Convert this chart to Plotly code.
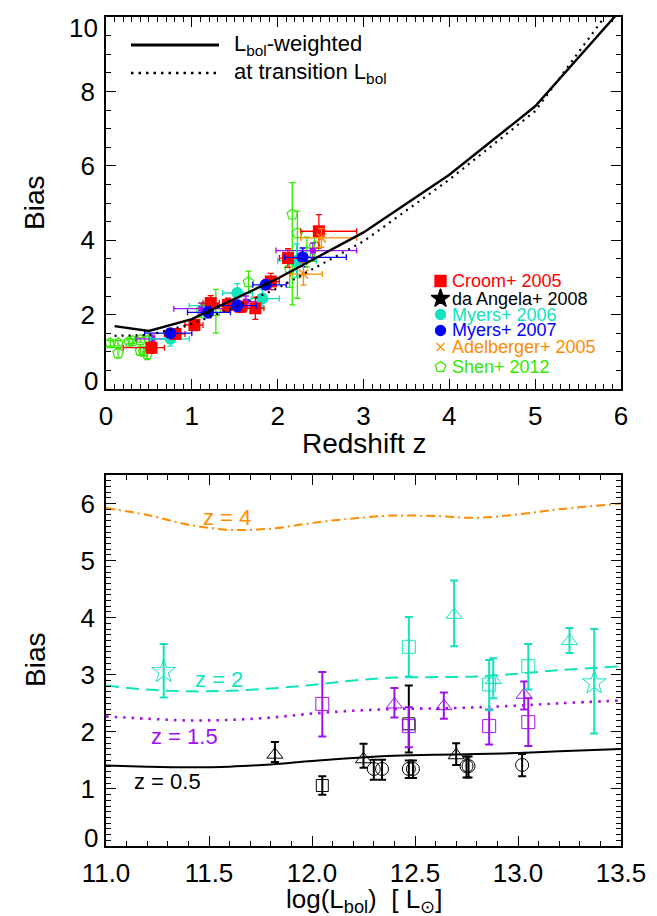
import plotly.graph_objects as go

# ---------------- DATA: top panel (bias vs redshift) ----------------
z_model = [0.1, 0.5, 1.0, 1.5, 2.0, 3.0, 4.0, 5.0, 6.0]
bias_lbol_weighted = [1.69, 1.56, 1.88, 2.42, 2.97, 4.21, 5.76, 7.60, 10.2]
bias_transition = [1.43, 1.45, 1.75, 2.20, 2.71, 3.97, 5.63, 7.47, 10.6]

croom_z = [0.53, 0.81, 1.03, 1.22, 1.42, 1.57, 1.74, 1.92, 2.12, 2.48]
croom_b = [1.11, 1.48, 1.72, 2.31, 2.26, 2.21, 2.17, 2.89, 3.52, 4.24]
croom_zlo = [0.20, 0.68, 0.92, 1.13, 1.32, 1.51, 1.64, 1.84, 2.02, 2.27]
croom_zhi = [0.68, 0.92, 1.13, 1.32, 1.51, 1.64, 1.84, 2.02, 2.25, 2.92]
croom_berr = [0.15, 0.12, 0.15, 0.20, 0.18, 0.15, 0.30, 0.22, 0.25, 0.45]

myers07_z = [0.75, 1.19, 1.53, 1.86, 2.29]
myers07_b = [1.50, 2.06, 2.24, 2.80, 3.54]
myers07_zlo = [0.45, 0.95, 1.30, 1.71, 2.08]
myers07_zhi = [1.00, 1.45, 1.75, 2.10, 2.80]
myers07_berr = [0.12, 0.15, 0.15, 0.12, 0.25]

myers06_z = [0.75, 1.20, 1.53, 1.82, 2.22]
myers06_b = [1.35, 2.24, 2.58, 2.43, 3.45]
myers06_zlo = [0.52, 0.97, 1.36, 1.69, 2.00]
myers06_zhi = [0.97, 1.42, 1.71, 2.02, 2.45]
myers06_berr = [0.20, 0.18, 0.25, 0.25, 0.45]

other_z = [0.54, 1.11, 1.63, 2.41]
other_b = [1.35, 2.16, 2.35, 3.72]
other_zlo = [0.35, 0.79, 1.45, 1.98]
other_zhi = [0.75, 1.36, 1.80, 2.92]
other_berr = [0.10, 0.15, 0.15, 0.20]

adel_z = [2.30, 2.51]
adel_b = [3.09, 4.06]
adel_zlo = [2.15, 2.27]
adel_zhi = [2.52, 2.92]
adel_berr = [0.30, 0.25]

daangela_z = [1.19, 1.88]
daangela_b = [2.06, 2.83]

shen_z = [0.05, 0.14, 0.14, 0.27, 0.31, 0.40, 0.40, 0.44, 0.48, 0.50,
          1.11, 1.28, 1.66, 2.14, 2.17, 2.23, 2.34, 2.43]
shen_b = [1.23, 1.23, 0.96, 1.27, 1.29, 1.32, 1.02, 1.00, 0.94, 1.32,
          2.12, 2.10, 2.87, 3.23, 4.69, 4.19, 3.68, 3.83]
shen_bup = [0.08, 0.07, 0.12, 0.06, 0.06, 0.06, 0.10, 0.10, 0.15, 0.10,
            0.20, 0.58, 0.30, 0.50, 0.86, 0.59, 0.40, 0.40]
shen_bdn = [0.08, 0.07, 0.12, 0.06, 0.06, 0.06, 0.10, 0.10, 0.15, 0.10,
            0.20, 0.60, 0.30, 0.50, 2.43, 1.75, 0.40, 0.40]

legend_labels = ["Croom+ 2005", "da Angela+ 2008", "Myers+ 2006",
                 "Myers+ 2007", "Adelberger+ 2005", "Shen+ 2012"]

top_y_ticks = [0, 2, 4, 6, 8, 10]
bot_y_ticks = [0, 1, 2, 3, 4, 5, 6]

# ---------------- DATA: bottom panel (bias vs log Lbol) ----------------
L_model = [11.0, 11.2, 11.4, 11.6, 11.8, 12.0, 12.2, 12.4, 12.6, 12.8, 13.0, 13.2, 13.5]
bias_z4 = [5.92, 5.80, 5.63, 5.54, 5.56, 5.66, 5.74, 5.79, 5.78, 5.75, 5.81, 5.90, 6.00]
bias_z2 = [2.81, 2.74, 2.71, 2.72, 2.76, 2.82, 2.90, 2.95, 2.96, 2.97, 3.02, 3.08, 3.15]
bias_z15 = [2.27, 2.23, 2.20, 2.21, 2.25, 2.32, 2.37, 2.40, 2.41, 2.43, 2.46, 2.50, 2.55]
bias_z05 = [1.41, 1.39, 1.38, 1.39, 1.43, 1.49, 1.54, 1.58, 1.60, 1.61, 1.63, 1.66, 1.70]

# z ~ 2 (cyan)
c_star_L = [11.28, 13.37]
c_star_b = [3.06, 2.86]
c_star_up = [0.48, 0.94]
c_star_dn = [0.46, 0.89]
c_sq_L = [12.47, 12.86, 13.05]
c_sq_b = [3.49, 2.83, 3.15]
c_sq_up = [0.52, 0.43, 0.39]
c_sq_dn = [0.52, 0.45, 0.41]
c_tri_L = [12.69, 12.88, 13.25]
c_tri_b = [4.05, 2.91, 3.59]
c_tri_up = [0.60, 0.38, 0.23]
c_tri_dn = [0.55, 0.32, 0.21]
# z ~ 1.5 (purple)
p_sq_L = [12.05, 12.47, 12.86, 13.05]
p_sq_b = [2.49, 2.10, 2.10, 2.17]
p_sq_up = [0.56, 0.33, 0.29, 0.42]
p_sq_dn = [0.57, 0.37, 0.32, 0.42]
p_tri_L = [12.40, 12.64, 13.03]
p_tri_b = [2.48, 2.45, 2.65]
p_tri_up = [0.29, 0.24, 0.23]
p_tri_dn = [0.23, 0.22, 0.26]
# z ~ 0.5 (black)
k_sq_L = [12.05, 12.47]
k_sq_b = [1.06, 2.14]
k_sq_up = [0.16, 0.67]
k_sq_dn = [0.16, 0.50]
k_tri_L = [11.82, 12.25, 12.70]
k_tri_b = [1.60, 1.52, 1.59]
k_tri_up = [0.22, 0.27, 0.21]
k_tri_dn = [0.13, 0.15, 0.17]
k_circ_L = [12.30, 12.34, 12.47, 12.49, 12.75, 12.76, 13.02]
k_circ_b = [1.35, 1.35, 1.35, 1.35, 1.40, 1.40, 1.42]
k_circ_up = [0.16, 0.16, 0.15, 0.15, 0.17, 0.17, 0.19]
k_circ_dn = [0.19, 0.19, 0.16, 0.16, 0.20, 0.20, 0.20]

# ---------------- STYLE ----------------
FONT = "Liberation Sans, Arial, Helvetica, sans-serif"
RED = "#ff0000"
BLUE = "#0000ff"
CYAN = "#12e3bd"
PURPLE = "#a010f0"
ORANGE = "#ff8c00"
GREEN = "#33e800"
BLACK = "#000000"
TICKSIZE = 26

W, H = 657, 916
ML, MR, MT, MB = 98, 44, 9, 78
PW, PH = W - ML - MR, H - MT - MB


def px(x, y):
    """page pixel -> paper coordinates"""
    return (x - ML) / PW, (H - MB - y) / PH


fig = go.Figure()


def diff(a, b):
    return [x - y for x, y in zip(a, b)]


def pts_top(z, b, zlo, zhi, berr, color, symbol, size, lw=0, bup=None, bdn=None):
    ey = dict(type="data", symmetric=False,
              array=bup if bup is not None else berr,
              arrayminus=bdn if bdn is not None else berr,
              color=color, thickness=1.3, width=3)
    ex = None
    if zlo is not None:
        ex = dict(type="data", symmetric=False, array=diff(zhi, z), arrayminus=diff(z, zlo),
                  color=color, thickness=1.3, width=3)
    fig.add_trace(go.Scatter(
        x=z, y=b, mode="markers", xaxis="x", yaxis="y",
        marker=dict(symbol=symbol, size=size, color=color, line=dict(color=color, width=lw)),
        error_x=ex, error_y=ey, showlegend=False, hoverinfo="skip"))


# top panel points
pts_top(shen_z, shen_b, None, None, None, GREEN, "pentagon-open", 11, lw=1.2, bup=shen_bup, bdn=shen_bdn)
pts_top(other_z, other_b, other_zlo, other_zhi, other_berr, PURPLE, "square", 6)
pts_top(myers06_z, myers06_b, myers06_zlo, myers06_zhi, myers06_berr, CYAN, "circle", 12)
pts_top(croom_z, croom_b, croom_zlo, croom_zhi, croom_berr, RED, "square", 12)
pts_top(myers07_z, myers07_b, myers07_zlo, myers07_zhi, myers07_berr, BLUE, "circle", 12)
pts_top(adel_z, adel_b, adel_zlo, adel_zhi, adel_berr, ORANGE, "x-thin-open", 9, lw=1.5)
fig.add_trace(go.Scatter(x=daangela_z, y=daangela_b, mode="markers", xaxis="x", yaxis="y",
                         marker=dict(symbol="star", size=5, color=BLACK),
                         showlegend=False, hoverinfo="skip"))

# top panel model lines
fig.add_trace(go.Scatter(x=z_model, y=bias_transition, mode="lines", xaxis="x", yaxis="y",
                         line=dict(color=BLACK, width=2.2, dash="2px,5px"),
                         showlegend=False, hoverinfo="skip"))
fig.add_trace(go.Scatter(x=z_model, y=bias_lbol_weighted, mode="lines", xaxis="x", yaxis="y",
                         line=dict(color=BLACK, width=2.4),
                         showlegend=False, hoverinfo="skip"))

# bottom panel model curves
for yy, col, dash, w in [(bias_z4, ORANGE, "9px,4px,2px,4px", 2),
                         (bias_z2, CYAN, "13px,7px", 2),
                         (bias_z15, PURPLE, "2.5px,6px", 2.6),
                         (bias_z05, BLACK, "solid", 2)]:
    fig.add_trace(go.Scatter(x=L_model, y=yy, mode="lines", xaxis="x2", yaxis="y2",
                             line=dict(color=col, width=w, dash=dash, shape="spline", smoothing=1),
                             showlegend=False, hoverinfo="skip"))


def pts_bot(L, b, up, dn, color, symbol, size):
    fig.add_trace(go.Scatter(
        x=L, y=b, mode="markers", xaxis="x2", yaxis="y2",
        marker=dict(symbol=symbol, size=size, color=color, line=dict(color=color, width=1)),
        error_y=dict(type="data", symmetric=False, array=up, arrayminus=dn,
                     color=color, thickness=2, width=4),
        showlegend=False, hoverinfo="skip"))


pts_bot(k_circ_L, k_circ_b, k_circ_up, k_circ_dn, BLACK, "circle-open", 13)
pts_bot(k_tri_L, k_tri_b, k_tri_up, k_tri_dn, BLACK, "triangle-up-open", 14)
pts_bot(k_sq_L, k_sq_b, k_sq_up, k_sq_dn, BLACK, "square-open", 12)
pts_bot(p_tri_L, p_tri_b, p_tri_up, p_tri_dn, PURPLE, "triangle-up-open", 14)
pts_bot(p_sq_L, p_sq_b, p_sq_up, p_sq_dn, PURPLE, "square-open", 13)
pts_bot(c_tri_L, c_tri_b, c_tri_up, c_tri_dn, CYAN, "triangle-up-open", 14)
pts_bot(c_sq_L, c_sq_b, c_sq_up, c_sq_dn, CYAN, "square-open", 13)
pts_bot(c_star_L, c_star_b, c_star_up, c_star_dn, CYAN, "star-open", 18)

# ---------------- legends (overlay pixel axis x3/y3) ----------------
fig.add_trace(go.Scatter(x=[123, 211], y=[37, 37], mode="lines", xaxis="x3", yaxis="y3",
                         line=dict(color=BLACK, width=3), showlegend=False, hoverinfo="skip"))
fig.add_trace(go.Scatter(x=[123, 211], y=[65, 65], mode="lines", xaxis="x3", yaxis="y3",
                         line=dict(color=BLACK, width=2.5, dash="2.5px,5px"),
                         showlegend=False, hoverinfo="skip"))

annotations = []


def add_px_text(text, x, y, size, color=BLACK, xanchor="left", angle=0):
    ax_, ay_ = px(x, y)
    annotations.append(dict(text=text, x=ax_, y=ay_, xref="paper", yref="paper",
                            xanchor=xanchor, yanchor="middle", showarrow=False, textangle=angle,
                            font=dict(family=FONT, size=size, color=color)))


add_px_text("L<sub>bol</sub>-weighted", 224, 37, 22)
add_px_text("at transition L<sub>bol</sub>", 224, 65, 22)

leg_rows = [273, 290.5, 306.5, 322.5, 339, 359]
leg_colors = [RED, BLACK, CYAN, BLUE, ORANGE, GREEN]
leg_symbols = ["square", "star", "circle", "circle", "x-thin-open", "pentagon-open"]
leg_sizes = [11, 14, 10, 10, 8, 11]
for yy, col, sym, sz, lab in zip(leg_rows, leg_colors, leg_symbols, leg_sizes, legend_labels):
    fig.add_trace(go.Scatter(x=[432.5], y=[yy], mode="markers", xaxis="x3", yaxis="y3",
                             marker=dict(symbol=sym, size=sz, color=col, line=dict(color=col, width=1.3)),
                             showlegend=False, hoverinfo="skip"))
    add_px_text(lab, 442, yy, 18, color=col)

# axis titles
add_px_text("Bias", 27, 195, 28, xanchor="center", angle=-90)
add_px_text("Bias", 27, 652, 28, xanchor="center", angle=-90)
add_px_text("Redshift z", 356, 436, 28, xanchor="center")
add_px_text("log(L<sub>bol</sub>)\u00a0\u00a0[\u00a0L<sub>\u2299</sub>]", 356, 892, 26, xanchor="center")

# end-of-axis y labels (kept inside the frame, as in the reference)
add_px_text(str(top_y_ticks[-1]), 92, 19.5, TICKSIZE, xanchor="right")
add_px_text(str(top_y_ticks[0]), 92, 373, TICKSIZE, xanchor="right")
add_px_text(str(bot_y_ticks[0]), 92, 830, TICKSIZE, xanchor="right")

# curve labels in the bottom panel
curve_labels = ["z = 4", "z = 2", "z = 1.5", "z = 0.5"]
curve_label_L = [11.585, 11.547, 11.38, 11.30]
curve_label_b = [5.76, 2.91, 1.92, 1.13]
for lab, lx, ly, col in zip(curve_labels, curve_label_L, curve_label_b, [ORANGE, CYAN, PURPLE, BLACK]):
    annotations.append(dict(text=lab, x=lx, y=ly, xref="x2", yref="y2", showarrow=False,
                            xanchor="center", yanchor="middle",
                            font=dict(family=FONT, size=22, color=col)))

# ---------------- axes ----------------
TICKFONT = dict(family=FONT, size=TICKSIZE, color=BLACK)


def ax(**kw):
    d = dict(showline=True, linecolor=BLACK, linewidth=1.6, mirror="ticks", ticks="inside",
             ticklen=10, tickwidth=1.4, tickcolor=BLACK, showgrid=False, zeroline=False,
             tickfont=TICKFONT, fixedrange=True, ticklabeloverflow="allow", automargin=False)
    d.update(kw)
    return d


MINOR = dict(ticklen=5, ticks="inside", tickcolor=BLACK, tickwidth=1.2)
top_dom = [457 / PH, 1.0]
bot_dom = [0.0, 371 / PH]

top_y_text = [""] + [str(v) for v in top_y_ticks[1:-1]] + [""]
bot_y_text = [""] + [str(v) for v in bot_y_ticks[1:]]

fig.update_layout(
    width=W, height=H,
    margin=dict(l=ML, r=MR, t=MT, b=MB, autoexpand=False),
    paper_bgcolor="white", plot_bgcolor="rgba(0,0,0,0)",
    showlegend=False,
    xaxis=ax(domain=[0, 1], range=[0, 6], dtick=1, tick0=0, anchor="y", ticklabelstandoff=3,
             minor=dict(MINOR, dtick=0.1)),
    yaxis=ax(domain=top_dom, range=[0, 10], tickmode="array", tickvals=top_y_ticks,
             ticktext=top_y_text, anchor="x", ticklabelstandoff=4,
             minor=dict(MINOR, dtick=0.5, tick0=0)),
    xaxis2=ax(domain=[0, 1], range=[11, 13.5], dtick=0.5, tick0=11, tickformat=".1f", anchor="y2",
              ticklabelstandoff=3, minor=dict(MINOR, dtick=0.1)),
    yaxis2=ax(domain=bot_dom, range=[0, 6.5], tickmode="array", tickvals=bot_y_ticks,
              ticktext=bot_y_text, anchor="x2", ticklabelstandoff=4,
              minor=dict(MINOR, dtick=0.1, tick0=0)),
    xaxis3=dict(domain=[0, 1], range=[ML, W - MR], visible=False, fixedrange=True, anchor="y3",
                automargin=False),
    yaxis3=dict(domain=[0, 1], range=[H - MB, MT], visible=False, fixedrange=True, anchor="x3",
                automargin=False),
    annotations=annotations,
)

fig.write_html("out.html")
